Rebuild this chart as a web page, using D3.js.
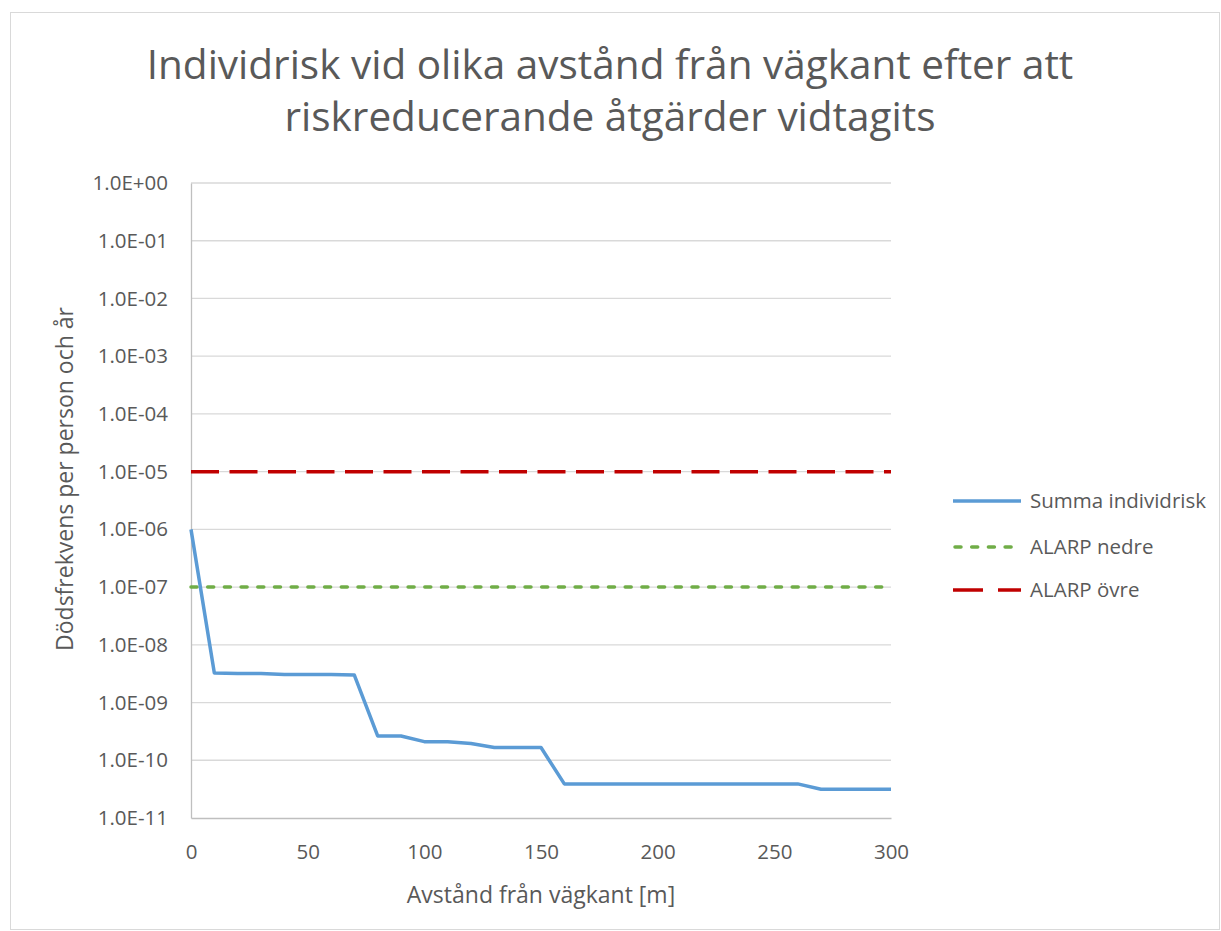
<!DOCTYPE html>
<html><head><meta charset="utf-8">
<script src="https://cdn.jsdelivr.net/npm/d3@7"></script>
<style>body{margin:0;background:#fff}svg{display:block}text{font-family:"Open Sans",sans-serif;fill:#595959}</style>
</head><body><svg id="c" width="1221" height="931"></svg>
<script>
const distances = [0,10,20,30,40,50,60,70,80,90,100,110,120,130,140,150,160,170,180,190,200,210,220,230,240,250,260,270,280,290,300];
const summa = [1e-6,3.25e-9,3.2e-9,3.2e-9,3.05e-9,3.05e-9,3.05e-9,3.0e-9,2.64e-10,2.64e-10,2.1e-10,2.1e-10,1.95e-10,1.66e-10,1.66e-10,1.66e-10,3.9e-11,3.9e-11,3.9e-11,3.9e-11,3.9e-11,3.9e-11,3.9e-11,3.9e-11,3.9e-11,3.9e-11,3.9e-11,3.15e-11,3.15e-11,3.15e-11,3.15e-11];
const alarpNedre = 1e-7;
const alarpOvre = 1e-5;
const yTicks = [1,1e-1,1e-2,1e-3,1e-4,1e-5,1e-6,1e-7,1e-8,1e-9,1e-10,1e-11];
const xTicks = [0,50,100,150,200,250,300];
const titleLines = ["Individrisk vid olika avstånd från vägkant efter att","riskreducerande åtgärder vidtagits"];
const legendNames = ["Summa individrisk","ALARP nedre","ALARP övre"];

const svg = d3.select("#c");
svg.append("rect").attr("x",10.5).attr("y",12.5).attr("width",1209).attr("height",917).attr("fill","#fff").attr("stroke","#d9d9d9");
const L=191,T=183,R=891,B=818;
const x = d3.scaleLinear().domain([0,300]).range([L,R]);
const y = d3.scaleLog().domain([1e-11,1]).range([B,T]);

// grid
svg.append("g").selectAll("line").data(yTicks.slice(0,-1)).join("line")
 .attr("x1",L).attr("x2",R).attr("y1",d=>y(d)).attr("y2",d=>y(d)).attr("stroke","#d9d9d9").attr("stroke-width",1.3);

function fmt(d){const e=Math.round(Math.log10(d));const s=e<0?"-":"+";return "1.0E"+s+String(Math.abs(e)).padStart(2,"0");}
const ya = svg.append("g").attr("transform",`translate(${L},0)`).call(d3.axisLeft(y).tickValues(yTicks).tickFormat(fmt).tickSize(0).tickPadding(23));
ya.select(".domain").attr("stroke","#bfbfbf").attr("stroke-width",1.3);
ya.selectAll("text").style("font-size","20.5px").attr("fill","#595959").style("font-family","Open Sans");
const xa = svg.append("g").attr("transform",`translate(0,${B})`).call(d3.axisBottom(x).tickValues(xTicks).tickSize(0).tickPadding(26));
xa.select(".domain").attr("stroke","#bfbfbf").attr("stroke-width",1.3);
xa.selectAll("text").style("font-size","20.5px").attr("fill","#595959").style("font-family","Open Sans");

// lines
svg.append("line").attr("x1",x(0)).attr("x2",x(300)).attr("y1",y(alarpOvre)).attr("y2",y(alarpOvre))
 .attr("stroke","#c00000").attr("stroke-width",3.5).attr("stroke-dasharray","28,10.5");
svg.append("line").attr("x1",x(0)).attr("x2",x(300)).attr("y1",y(alarpNedre)).attr("y2",y(alarpNedre))
 .attr("stroke","#70ad47").attr("stroke-width",3.5).attr("stroke-dasharray","6,10.7").attr("stroke-linecap","round");
const line = d3.line().x((d,i)=>x(distances[i])).y(d=>y(d));
svg.append("path").datum(summa).attr("d",line).attr("fill","none").attr("stroke","#5b9bd5").attr("stroke-width",3.5).attr("stroke-linejoin","round");

// title
svg.append("g").selectAll("text").data(titleLines).join("text")
 .attr("x",610).attr("y",(d,i)=>79+i*52).attr("text-anchor","middle").style("font-size","40.5px").text(d=>d);

svg.append("text").attr("transform","translate(73,479) rotate(-90)").attr("text-anchor","middle").style("font-size","23px").text("Dödsfrekvens per person och år");
svg.append("text").attr("x",541).attr("y",903).attr("text-anchor","middle").style("font-size","23px").text("Avstånd från vägkant [m]");

// legend
const lg = svg.append("g");
const ly=[501,547,590];
const styles=[{c:"#5b9bd5",d:null,cap:"butt"},{c:"#70ad47",d:"6,10.7",cap:"round"},{c:"#c00000",d:"30,15",cap:"butt"}];
legendNames.forEach((n,i)=>{
 lg.append("line").attr("x1",953+(i==1?2:0)).attr("x2",1021).attr("y1",ly[i]).attr("y2",ly[i]).attr("stroke",styles[i].c).attr("stroke-width",3.5)
  .attr("stroke-dasharray",styles[i].d).attr("stroke-linecap",styles[i].cap);
 lg.append("text").attr("x",1030).attr("y",ly[i]).attr("dy","0.35em").style("font-size","20.5px").text(n);
});
</script></body></html>
